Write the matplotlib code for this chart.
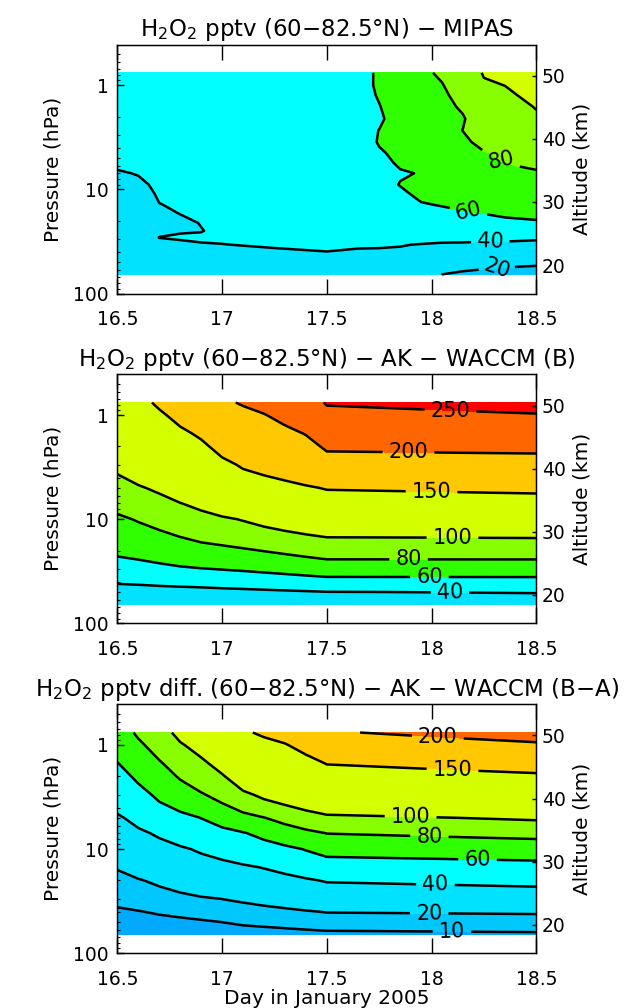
import numpy as np
import matplotlib
matplotlib.use("Agg")
import matplotlib.pyplot as plt

# fill bands and colours (IDL rainbow style)
fill_levels = [-50, 10, 20, 40, 60, 80, 100, 150, 200, 250, 300, 500]
fill_colors = ['#00aaff', '#00c8ff', '#00e2ff', '#00ffff', '#30ff00',
               '#88ff00', '#d4ff00', '#ffc800', '#ff6600', '#ff0000', '#b00000']
line_levels = [10, 20, 40, 60, 80, 100, 150, 200, 250, 300]

# ---- panel 1: MIPAS ----
mipas_days = [16.5, 16.6, 16.7, 16.8, 16.9, 17.0, 17.25, 17.5, 17.65, 17.75,
              17.85, 17.95, 18.05, 18.15, 18.25, 18.35, 18.5]
mipas_pres = [0.76, 1.0, 1.25, 1.6, 2.1, 2.7, 3.5, 4.5, 5.5, 7, 9, 11, 14, 17,
              21, 25, 29, 34, 40, 47, 55, 66]
# one profile per day, top (low pressure) -> bottom
mipas_profiles = [
    [50, 50, 49, 48, 47, 46, 45, 44, 42, 39, 37, 36, 35, 34, 33, 32, 31, 30, 30, 29, 28, 27],
    [50, 50, 49, 48, 47, 46, 45, 44, 43, 40.5, 38, 36.5, 35, 34, 33, 32, 32, 31, 30, 29, 28, 27],
    [50, 50, 49, 48, 47, 46, 45, 44.5, 44, 43, 42, 41, 39.8, 37, 36, 38, 40.2, 36, 33, 31, 29, 28],
    [50, 50, 49, 48, 47.5, 47, 46, 45.5, 45, 44, 43, 42, 41, 40.3, 37, 39, 41.5, 37, 34, 32, 30, 29],
    [50, 50, 49.5, 49, 48.5, 48, 47, 46.5, 46, 45, 44, 43, 42, 41.5, 40.5, 39.5, 42, 39, 36, 33, 31, 29],
    [50, 50, 50, 49.5, 49, 48.5, 48, 47.5, 47, 46.5, 46, 45.5, 45, 44.5, 44, 43, 42, 39.7, 37, 34, 31, 29],
    [51, 51, 51, 50.5, 50, 50, 49.5, 49, 48.5, 48, 47.5, 47, 46.5, 46, 45, 44, 43, 41.5, 38, 35, 32, 30],
    [50, 51, 51, 51, 51, 50.5, 50, 50, 49.5, 49, 48.5, 48, 47.5, 47, 46, 45, 44, 42, 39.8, 36, 33, 31],
    [55, 55, 55, 55, 54, 55, 53, 53, 52, 52, 51, 50, 49, 48, 47, 45.5, 44, 41.5, 38.5, 35, 32, 30],
    [62, 62, 61, 59.5, 58, 60.2, 61, 58.5, 57, 56, 55, 54, 52, 50, 48.5, 47, 45, 40.8, 39, 36, 33, 31],
    [70, 69, 68, 67, 66, 65, 64, 63, 61.5, 59, 60.5, 57.5, 55, 53, 51, 49, 45, 40.5, 38.5, 35, 32, 30],
    [78, 77, 76, 75, 74, 73, 72, 70.5, 69, 60.5, 64, 63, 59, 56, 53, 48, 44, 39.5, 37, 34, 31, 28],
    [81.5, 79.5, 78, 77, 76, 75, 74, 72.5, 71, 69, 67, 64.5, 60.8, 56.5, 52, 48, 43.5, 38.5, 34, 29, 24, 19.8],
    [88, 86, 84, 81.5, 79, 80.2, 78, 76, 74, 72, 69.5, 67, 63, 58.5, 53.5, 48.5, 44, 38, 33, 27, 22.5, 18],
    [101.5, 97.5, 94, 91, 88, 85.5, 83, 79.2, 76.5, 73.5, 70.5, 67.5, 64, 60.2, 55, 50, 43, 37.5, 32.5, 27, 21.5, 16.5],
    [106, 100.2, 96, 92.5, 89.5, 87, 84.5, 82, 80.3, 76.5, 73, 70, 66, 62, 57, 51.5, 43.5, 37, 32, 26.5, 20.6, 16],
    [116, 110, 106, 101, 97, 93.5, 89.5, 86, 83, 78.5, 75, 71.5, 67.5, 64, 58, 50, 42, 36.5, 31, 25.5, 19.5, 15],
]

# ---- panels 2 and 3: WACCM with averaging kernels ----
waccm_days = [16.5, 16.6, 16.7, 16.8, 16.9, 17.0, 17.1, 17.2, 17.3, 17.4, 17.5, 18.5]
waccm_pres = [0.76, 1, 1.5, 2, 3, 5, 7, 10, 15, 20, 30, 40, 50, 66]
waccm_profiles = [
    [135, 129, 120, 113, 104, 92.5, 84.9, 77.2, 69.0, 63.3, 51.4, 41.3, 34, 27],
    [143, 136, 126, 119, 109, 98.4, 90.1, 81.2, 71.9, 65.3, 53.4, 42.3, 33.5, 27],
    [153.7, 146.4, 135.4, 127.7, 116.7, 102.9, 94.3, 85.5, 75.3, 67.9, 55.7, 43.5, 34, 28],
    [164.9, 156.9, 145.0, 136.6, 124.7, 109.6, 99.8, 90.4, 79.6, 70.9, 57.9, 44.7, 34.2, 28],
    [175.8, 167, 154, 144.7, 131.7, 115.1, 104.3, 94.0, 83.1, 73.9, 59.4, 45.6, 34.7, 28],
    [195.4, 185.0, 169.5, 158.5, 143.0, 123.3, 110.5, 97.5, 85.3, 75.9, 60.7, 46.8, 35.5, 29],
    [202.4, 192.6, 178.1, 167.8, 153.2, 131.4, 116.7, 101.0, 87.7, 78.1, 62.0, 47.9, 36.2, 29],
    [208.8, 198.8, 183.9, 173.4, 158.5, 137.0, 121.7, 105.4, 90.3, 80.5, 63.6, 49.2, 37.0, 30],
    [219.5, 208.4, 191.9, 180.2, 163.7, 141.8, 126.3, 109.8, 93.1, 82.8, 65.3, 50.5, 37.8, 31],
    [232.0, 219.8, 201.5, 188.5, 170.3, 146.9, 131.2, 114.5, 96.3, 85.4, 67.2, 52.0, 38.7, 31],
    [252.9, 239.5, 219.6, 205.4, 182.5, 151.8, 135.6, 118.8, 99.7, 88.1, 69.2, 53.4, 39.7, 32],
    [296, 243, 223.8, 207.8, 185, 155.8, 138.4, 120.6, 100.4, 88.3, 69.2, 53.75, 40.8, 31],
]
diff_profiles = [
    [71.6, 66.7, 59.5, 54.3, 47.1, 38.1, 32.8, 27.1, 20.6, 17.0, 12.1, 8.7, 5.9, 2.7],
    [82.5, 77.0, 68.8, 62.9, 54.6, 44.1, 37.6, 31.3, 24.1, 19.3, 13.6, 9.6, 6.5, 3],
    [92.8, 86.9, 78.2, 72.0, 63.2, 50.6, 42.0, 34.8, 27.2, 21.8, 15.3, 10.9, 7.4, 3.5],
    [104.8, 98.3, 88.6, 81.8, 70.1, 55.4, 46.8, 38.1, 30.2, 24.6, 17.1, 12.1, 8.1, 4],
    [113.3, 106.4, 96.3, 89.1, 78.4, 60.3, 51.3, 41.8, 33.0, 27.1, 18.9, 13.4, 9.0, 4.5],
    [127.5, 119.3, 106.9, 98.2, 85.9, 66.8, 55.3, 45.3, 35.3, 29.0, 20.1, 14.5, 10.1, 4.9],
    [147, 137, 122, 111.5, 96.2, 73.8, 59.1, 48.9, 37.9, 31.1, 21.5, 15.7, 11.3, 6.0],
    [153.4, 143.5, 128.9, 118.4, 103.8, 79.6, 64.6, 52.5, 40.5, 33.3, 23.2, 16.7, 12.0, 6.4],
    [158.5, 148.6, 133.8, 123.4, 108.7, 85.9, 70.4, 56.3, 43.7, 35.6, 24.9, 17.8, 12.8, 6.8],
    [168.6, 157.7, 141.5, 130.0, 113.8, 91.7, 76.0, 60.8, 47.4, 38.3, 27.0, 19.1, 13.7, 7.3],
    [197, 180, 151, 138, 119.7, 96.2, 80.5, 65.5, 50.8, 41, 28.9, 20.4, 14.6, 7.8],
    [215.9, 194.9, 163.6, 144.9, 126.2, 102.4, 85.5, 69.0, 53.4, 43.9, 30.6, 21.2, 15.3, 8.6],
]

# where the contour labels sit (day, hPa)
mipas_label_pos = [(18.33, 5.5), (18.18, 15.3), (18.28, 29.7), (18.30, 55.5)]
waccm_label_pos = [(18.09, 0.86), (17.89, 2.1), (18.0, 5.1), (18.1, 14.0),
                   (17.89, 23.3), (17.99, 33.2), (18.09, 46.9)]
diff_label_pos = [(18.03, 0.80), (18.1, 1.57), (17.9, 4.55), (17.99, 6.9),
                  (18.22, 11.6), (18.02, 19.8), (17.99, 38.4), (18.1, 57.6)]

day_ticks = [16.5, 17, 17.5, 18, 18.5]
day_labels = ['16.5', '17', '17.5', '18', '18.5']
alt_ticks = [20, 30, 40, 50]

P_TOP, P_BOT = 0.407, 100.0
H_SCALE, P_REF = 7.17, 866.0


def p2z(p):
    # pressure (hPa) -> approx. altitude (km), used for the right axis
    return H_SCALE * np.log(P_REF / p)


def draw_panel(ax, days, pres, profiles, title, label_pos, xlabel=None):
    z = np.array(profiles).T
    ax.contourf(days, pres, z, levels=fill_levels, colors=fill_colors)
    cs = ax.contour(days, pres, z, levels=line_levels, colors='black', linewidths=1.8)
    ax.clabel(cs, fmt='%d', manual=label_pos, inline=True, fontsize=15, inline_spacing=6)

    ax.set_yscale('log')
    ax.set_xlim(16.5, 18.5)
    ax.set_ylim(P_BOT, P_TOP)
    ax.set_xticks(day_ticks, labels=day_labels)
    ax.set_yticks([1, 10, 100], labels=['1', '10', '100'])
    ax.yaxis.set_minor_formatter(plt.NullFormatter())
    ax.tick_params(axis='x', which='major', direction='in', top=True, length=11,
                   width=1, labelsize=13.5, pad=12)
    ax.tick_params(axis='y', which='major', direction='in', length=5, width=1,
                   labelsize=13.5, pad=6)
    ax.tick_params(axis='y', which='minor', direction='in', length=2.5, width=0.8)
    ax.set_ylabel('Pressure (hPa)', fontsize=14.5, labelpad=8)
    ax.set_title(title, fontsize=16.5, pad=6)
    if xlabel:
        ax.set_xlabel(xlabel, fontsize=14.5, labelpad=0)
    for s in ax.spines.values():
        s.set_linewidth(1.0)

    ax2 = ax.twinx()
    ax2.set_ylim(p2z(P_BOT), p2z(P_TOP))
    ax2.set_yticks(alt_ticks, labels=[str(a) for a in alt_ticks])
    ax2.tick_params(axis='y', direction='in', length=3, width=1, labelsize=13.5, pad=4)
    ax2.set_ylabel('Altitude (km)', fontsize=14.5, labelpad=5)


fig = plt.figure(figsize=(6.38, 10.08), dpi=100)
left, width, height = 0.1839, 0.6567, 0.247

ax1 = fig.add_axes([left, 0.7088, width, height])
draw_panel(ax1, mipas_days, mipas_pres, mipas_profiles,
           'H$_2$O$_2$ pptv (60\u221282.5\u00b0N) \u2212 MIPAS', mipas_label_pos)

ax2 = fig.add_axes([left, 0.3816, width, height])
draw_panel(ax2, waccm_days, waccm_pres, waccm_profiles,
           'H$_2$O$_2$ pptv (60\u221282.5\u00b0N) \u2212 AK \u2212 WACCM (B)', waccm_label_pos)

ax3 = fig.add_axes([left, 0.0543, width, height])
draw_panel(ax3, waccm_days, waccm_pres, diff_profiles,
           'H$_2$O$_2$ pptv diff. (60\u221282.5\u00b0N) \u2212 AK \u2212 WACCM (B\u2212A)',
           diff_label_pos, xlabel='Day in January 2005')

fig.savefig('out.png', dpi=100)
